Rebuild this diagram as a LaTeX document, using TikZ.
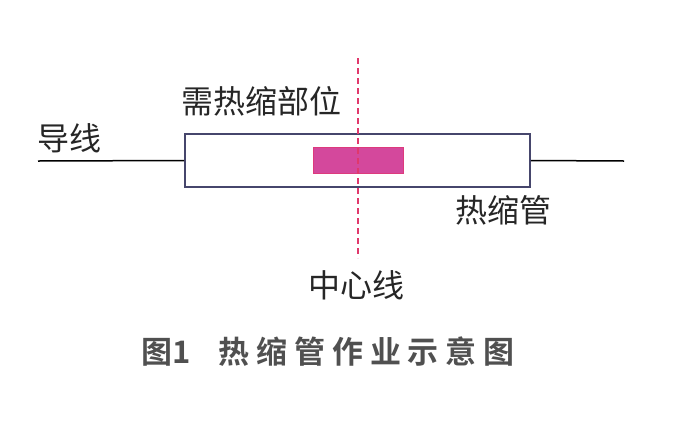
\documentclass[tikz,border=0pt]{standalone}
\usepackage{fontspec}
\setmainfont{Noto Sans CJK SC}[BoldFont={Noto Sans CJK SC Bold}]
\usetikzlibrary{positioning}
\definecolor{tubeblue}{HTML}{46466C}
\definecolor{zonepink}{HTML}{D4489C}
\definecolor{axisred}{HTML}{E0386C}
\definecolor{capgray}{HTML}{505050}

\begin{document}
\begin{tikzpicture}[x=1pt, y=-1pt,
          every node/.style={inner sep=0pt, align=center},
          lbl/.style={font=\fontsize{32}{34}\selectfont, text=black!85},
          tube/.style={draw=tubeblue, line width=1.8pt, fill=white,
                       minimum width=345pt, minimum height=53pt},
          zone/.style={draw=zonepink!80!red, line width=0.8pt, fill=zonepink,
                       minimum width=90pt, minimum height=26pt},
          wire/.style={line width=1.5pt, black},
          axis/.style={draw=axisred, line width=1.3pt, dash pattern=on 6pt off 4pt}]
        \useasboundingbox (0,0) rectangle (677,421);
        \coordinate (wireL) at (38,161);
        \coordinate (wireR) at (624,161);
        \coordinate (axtop) at (358,58);
        \coordinate (axbot) at (358,258);
        \node[tube] (tb)   at (357.5,160.5) {};
        \node[zone] (heat) at (358,160) {};
        \draw[wire] (wireL) -- (tb.west);
        \draw[wire] (tb.east) -- (wireR);
        \draw[axis] (axtop) -- (axbot);
        \node[lbl] (wirelbl) at (69,138)  {导线};
        \node[lbl] (heatlbl) at (261,101) {需热缩部位};
        \node[lbl] (tubelbl) at (503,210) {热缩管};
        \node[lbl] (axislbl) at (356,285) {中心线};
        \node[font=\fontsize{31}{33}\selectfont\bfseries, text=capgray]
             (cap) at (328,352) {图1\hspace{28pt}\addfontfeature{LetterSpace=22}热缩管作业示意图};
      \end{tikzpicture}
\end{document}
